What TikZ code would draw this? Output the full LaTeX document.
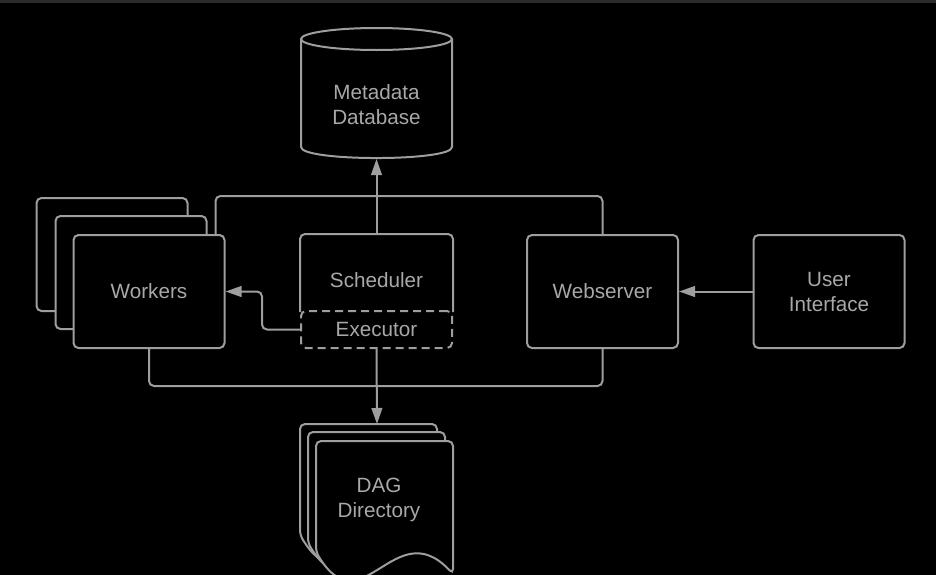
\documentclass[tikz,border=0pt]{standalone}
\usepackage{fontspec}
\setmainfont{Liberation Sans}
\usetikzlibrary{arrows.meta}

\definecolor{linegray}{HTML}{9E9E9E}
\definecolor{textgray}{HTML}{A8A8A8}
\definecolor{topbar}{HTML}{2B2B2B}

\tikzset{every picture/.style={line width=1.5pt}}
\tikzset{
  box/.style={draw=linegray, fill=black, rounded corners=3.75pt, minimum width=113.25pt, minimum height=84.75pt, inner sep=0pt},
  lbl/.style={text=textgray, font=\fontsize{15.5}{18.75}\selectfont, align=center},
  wire/.style={draw=linegray, rounded corners=3.75pt},
  flow/.style={wire, -{Triangle[length=12pt,width=8pt]}},
  doc/.style={draw=linegray, fill=black, rounded corners=3.75pt},
}

% one page of the DAG stack, shifted by #1
\newcommand{\dagpage}[1]{\draw[doc, shift={#1}] (316,552) -- (316,441) -- (453,441) -- (453,574) .. controls (395,512) and (362,628) .. (316,552) -- cycle;}

\begin{document}
\begin{tikzpicture}[x=0.75pt,y=0.75pt,yscale=-1,xscale=1]
\fill[black] (0,0) rectangle (936,575);
\useasboundingbox (0,0) rectangle (936,575);
\fill[topbar] (0,0) rectangle (936,3);

%Shape: Can [id:db]
\draw[doc, rounded corners=0pt] (301,39) -- (301,147) .. controls (301,161.7) and (452,161.7) .. (452,147) -- (452,39);
\draw[doc] (376.5,39) ellipse [x radius=75.5, y radius=11];
\node[lbl, minimum width=113.25pt, minimum height=81pt] (db) at (376.5,105) {Metadata\\Database};

%Shape: Stacked boxes [id:workers]
\node[box] (wk3) at (112,254.5) {};
\node[box] (wk2) at (131,272.5) {};
\node[box, lbl] (workers) at (149,291.5) {Workers};

%Shape: Scheduler with executor
\node[box, draw=none, minimum height=57pt, label={[lbl, yshift=-5.25pt]center:Scheduler}] (sched) at (376.5,273) {};
\draw[wire] (sched.south west) -- (sched.north west) -- (sched.north east) -- (sched.south east);
\node[box, lbl, dash pattern=on 6pt off 3.75pt, minimum height=27.75pt] (exec) at (376.5,329.5) {Executor};

%Shape: Rectangles
\node[box, lbl] (web) at (602.5,291.5) {Webserver};
\node[box, lbl] (ui) at (829,291.5) {User\\Interface};

%Shape: Document stack [id:dag]
\dagpage{(-16,-17)}
\dagpage{(-8,-9)}
\dagpage{(0,0)}
\node[lbl] (dag) at (379,499.5) {DAG\\Directory};
\coordinate (dagtop) at (377,424);

%Connectors
\draw[wire] ([xshift=-7.5pt]workers.north east) -- ++(0,-38) -| (web.north);
\draw[wire] (workers.south) -- ++(0,37) -| (web.south);
\draw[flow] (sched.north) -- (db.south |- 0,159);
\draw[flow] (exec.west) -- ++(-38,0) |- (workers.east);
\draw[flow] (exec.south) -- (dagtop);
\draw[flow] (ui.west) -- (web.east);

\end{tikzpicture}
\end{document}
